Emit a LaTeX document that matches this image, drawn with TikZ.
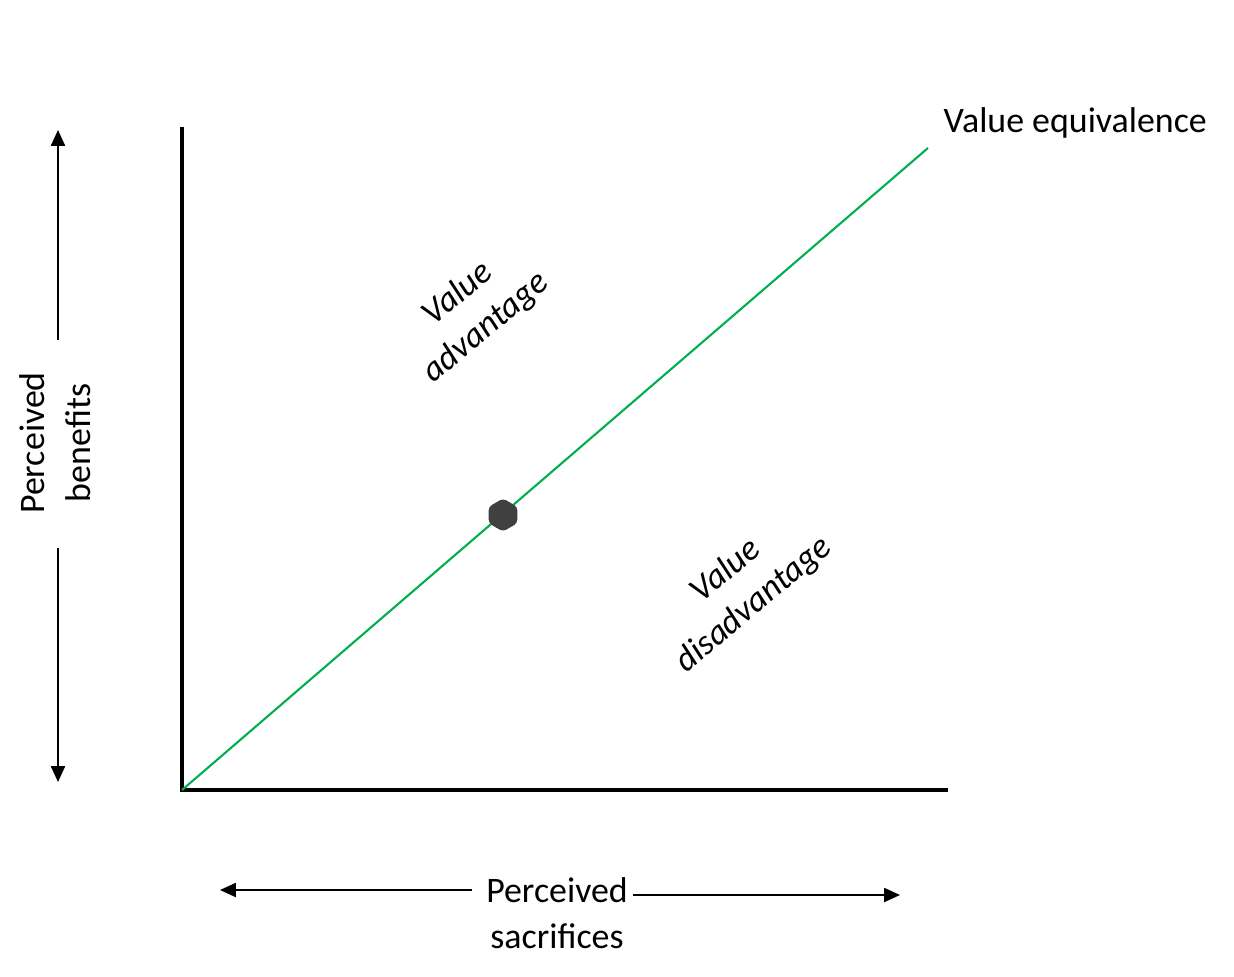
\documentclass[tikz,border=0pt]{standalone}
\usepackage{fontspec}
\setmainfont{Carlito}
\usetikzlibrary{arrows.meta,shapes.geometric}

\definecolor{eqgreen}{RGB}{0,176,80}
\tikzset{
  axisline/.style={line width=0.9pt,black},
  dirarrow/.style={line width=0.45pt,-{Triangle[length=4.5pt,width=4pt]}},
  valueline/.style={line width=0.6pt,color=eqgreen},
  zonelabel/.style={font=\itshape\fontsize{10}{12.5}\selectfont,align=center,rotate=40,inner sep=0pt},
  axislabel/.style={font=\fontsize{10.2}{13}\selectfont,align=center,inner sep=0pt}
}

\begin{document}
\begin{tikzpicture}[x=0.01cm,y=-0.01cm]
  % margini
  \useasboundingbox (0,0) rectangle (1234,976);

  % coordonate
  \coordinate (O) at (182,790);
  \coordinate (Ytop) at (182,127);
  \coordinate (Xend) at (948,790);
  \coordinate (E) at (928,148);

  % axe
  \draw[axisline] (Ytop) -- (O) -- (Xend);

  % linia de echivalenta
  \draw[valueline] (O) -- (E);
  \node[regular polygon,regular polygon sides=6,shape border rotate=30,
        fill=black!75,minimum size=0.33cm,inner sep=0pt,rounded corners=1pt] (dot) at (503,515) {};

  % etichete
  \node[anchor=base west,inner sep=0pt,font=\fontsize{10.2}{12}\selectfont] (equiv) at (943,133) {Value equivalence};
  \node[zonelabel] (adv) at (472,311) {Value\\advantage};
  \node[zonelabel] (disadv) at (740,588) {Value\\disadvantage};
  \node[axislabel,rotate=90] (benefits) at (55,443) {Perceived\\benefits};
  \node[axislabel] (sacrifices) at (557,913) {Perceived\\sacrifices};

  % sageti
  \coordinate (b1) at (58,340);  \coordinate (b2) at (58,130);
  \coordinate (b3) at (58,548);  \coordinate (b4) at (58,782);
  \coordinate (s1) at (472,890); \coordinate (s2) at (220,890);
  \coordinate (s3) at (633,895); \coordinate (s4) at (900,895);
  \foreach \from/\to in {b1/b2,b3/b4,s1/s2,s3/s4}
    \draw[dirarrow] (\from) -- (\to);
\end{tikzpicture}
\end{document}
